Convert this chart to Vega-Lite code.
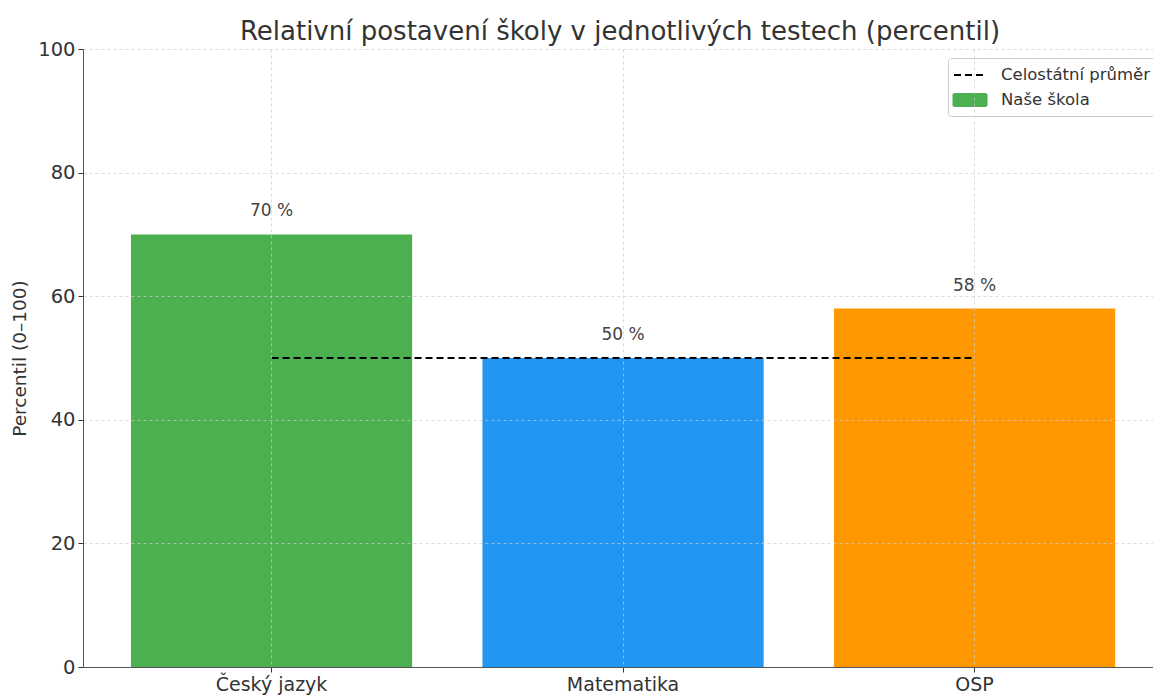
{
  "$schema": "https://vega.github.io/schema/vega-lite/v6.json",
  "autosize": {"type": "none"},
  "width": 1070,
  "height": 618,
  "padding": {"left": 83, "top": 49, "right": 0, "bottom": 28},
  "background": "white",
  "config": {
    "font": "DejaVu Sans",
    "view": {"stroke": null},
    "axis": {
      "labelFont": "DejaVu Sans",
      "titleFont": "DejaVu Sans",
      "labelColor": "#333333",
      "titleColor": "#333333",
      "domainColor": "#555555",
      "tickColor": "#333333",
      "grid": true,
      "gridColor": "#cccccc",
      "gridDash": [3, 3],
      "gridOpacity": 0.7
    }
  },
  "title": {
    "text": "Relativní postavení školy v jednotlivých testech (percentil)",
    "fontSize": 26,
    "fontWeight": "normal",
    "color": "#333333",
    "anchor": "middle",
    "offset": -6,
    "dx": 2
  },
  "data": {
    "values": [
      {"test": "Český jazyk", "percentil": 70, "label": "70 %", "prumer": 50, "series": "Celostátní průměr"},
      {"test": "Matematika", "percentil": 50, "label": "50 %", "prumer": 50, "series": "Celostátní průměr"},
      {"test": "OSP", "percentil": 58, "label": "58 %", "prumer": 50, "series": "Celostátní průměr"}
    ]
  },
  "encoding": {
    "x": {
      "field": "test",
      "type": "nominal",
      "sort": null,
      "scale": {"paddingInner": 0.2, "paddingOuter": 0.122, "align": 0.559},
      "axis": {
        "title": null,
        "labelAngle": 0,
        "labelFontSize": 19,
        "labelPadding": 3,
        "tickSize": 5,
        "bandPosition": 0.5,
        "zindex": 1
      }
    }
  },
  "layer": [
    {
      "mark": {"type": "bar"},
      "encoding": {
        "y": {
          "field": "percentil",
          "type": "quantitative",
          "scale": {"domain": [0, 100], "nice": false},
          "axis": {
            "title": "Percentil (0–100)",
            "titleFontSize": 18.5,
            "titleFontWeight": "normal",
            "titlePadding": 8,
            "labelFontSize": 19.5,
            "labelPadding": 3,
            "tickSize": 5,
            "values": [0, 20, 40, 60, 80, 100],
            "zindex": 1
          }
        },
        "fill": {
          "field": "test",
          "type": "nominal",
          "sort": null,
          "scale": {"domain": ["Český jazyk", "Matematika", "OSP"], "range": ["#4CAF50", "#2196F3", "#FF9800"]},
          "legend": null
        }
      }
    },
    {
      "mark": {"type": "text", "dy": -23, "fontSize": 17, "color": "#444444"},
      "encoding": {
        "y": {"field": "percentil", "type": "quantitative"},
        "text": {"field": "label"}
      }
    },
    {
      "mark": {"type": "line", "strokeDash": [7, 4], "strokeWidth": 2},
      "encoding": {
        "y": {"field": "prumer", "type": "quantitative"},
        "stroke": {
          "field": "series",
          "type": "nominal",
          "scale": {"domain": ["Celostátní průměr", "Naše škola"], "range": ["#000000", "#4CAF50"]},
          "legend": {
            "title": null,
            "orient": "none",
            "legendX": 865,
            "legendY": 9,
            "labelFontSize": 16.5,
            "labelColor": "#333333",
            "labelFont": "DejaVu Sans",
            "labelOffset": 25,
            "symbolSize": 400,
            "rowPadding": 5,
            "padding": 6,
            "strokeColor": "#cccccc",
            "fillColor": "white",
            "cornerRadius": 3,
            "encode": {
              "symbols": {
                "update": {
                  "x": {"value": 16},
                  "shape": {"signal": "datum.value === 'Naše škola' ? 'M-1.65,-0.6H1.65V0.6H-1.65Z' : 'M-1.6,0H1.6'"},
                  "fill": {"signal": "datum.value === 'Naše škola' ? '#4CAF50' : 'transparent'"},
                  "stroke": {"signal": "datum.value === 'Naše škola' ? 'transparent' : '#000000'"},
                  "strokeDash": {"signal": "datum.value === 'Naše škola' ? [1, 0] : [7, 4]"},
                  "strokeWidth": {"value": 2}
                }
              }
            }
          }
        }
      }
    }
  ]
}
